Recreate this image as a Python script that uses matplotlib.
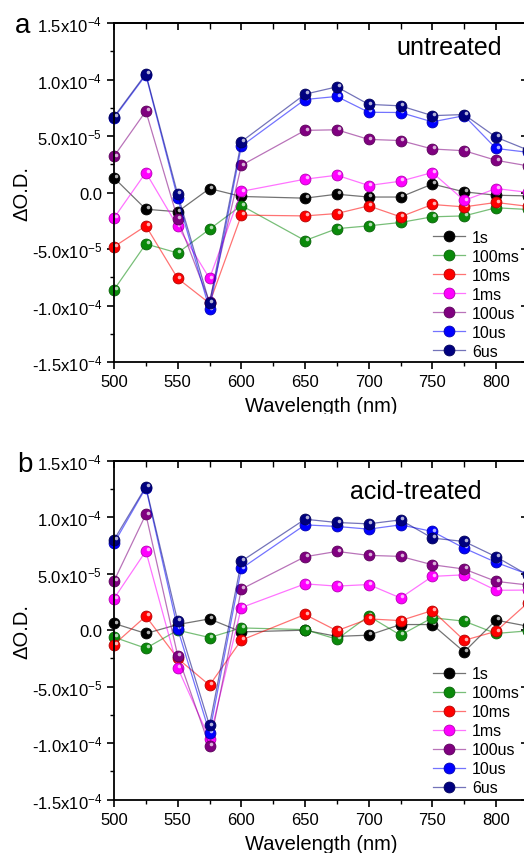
import numpy as np
import matplotlib
matplotlib.use('Agg')
import matplotlib.pyplot as plt
import matplotlib.colors as mcolors
from matplotlib.transforms import ScaledTranslation
from matplotlib.ticker import MultipleLocator, FixedLocator
from matplotlib.patches import Rectangle

plt.rcParams['font.family'] = ['Liberation Sans', 'DejaVu Sans']
plt.rcParams['mathtext.default'] = 'regular'

# probe wavelengths (nm) and delay times
wavelength = [500, 525, 550, 575, 600, 650, 675, 700, 725, 750, 775, 800, 825]
delays = ['1s', '100ms', '10ms', '1ms', '100us', '10us', '6us']
colors = ['#000000', '#0a8a0a', '#ff0000', '#ff00ff', '#800080', '#0000ff', '#000080']

# dO.D. in units of 1e-5, untreated film
untreated_1s    = [1.3, -1.48, -1.7, 0.35, -0.35, -0.5, -0.15, -0.4, -0.4, 0.75, 0.06, -0.24, -0.3]
untreated_100ms = [-8.6, -4.55, -5.35, -3.25, -1.15, -4.25, -3.2, -2.95, -2.65, -2.15, -2.07, -1.35, -1.5]
untreated_10ms  = [-4.8, -2.95, -7.6, -9.8, -2.0, -2.07, -1.86, -1.18, -2.15, -1.06, -1.27, -0.88, -1.22]
untreated_1ms   = [-2.25, 1.77, -3.0, -7.6, 0.1, 1.18, 1.53, 0.62, 1.0, 1.77, -0.7, 0.35, 0.02]
untreated_100us = [3.2, 7.2, -2.35, -9.7, 2.4, 5.5, 5.55, 4.7, 4.6, 3.85, 3.7, 2.85, 2.36]
untreated_10us  = [6.6, 10.4, -0.5, -10.35, 4.1, 8.23, 8.5, 7.1, 7.08, 6.25, 6.8, 3.9, 3.56]
untreated_6us   = [6.7, 10.5, -0.15, -9.8, 4.5, 8.7, 9.35, 7.8, 7.67, 6.8, 6.9, 4.9, 3.76]

# dO.D. in units of 1e-5, acid-treated film
acid_1s    = [0.6, -0.29, 0.5, 1.0, -0.15, 0.0, -0.55, -0.44, 0.5, 0.5, -1.92, 0.89, 0.35]
acid_100ms = [-0.62, -1.6, 0.0, -0.65, 0.2, 0.05, -0.8, 1.25, -0.44, 1.1, 0.8, -0.29, -0.06]
acid_10ms  = [-1.27, 1.24, -2.5, -4.87, -0.88, 1.39, -0.05, 1.0, 0.85, 1.74, -0.9, -0.1, 2.43]
acid_1ms   = [2.8, 7.0, -3.33, -9.6, 2.0, 4.1, 3.9, 4.04, 2.85, 4.76, 4.9, 3.53, 3.55]
acid_100us = [4.35, 10.25, -2.24, -10.26, 3.63, 6.5, 6.97, 6.62, 6.53, 5.79, 5.41, 4.32, 4.0]
acid_10us  = [7.7, 12.6, 0.12, -9.08, 5.46, 9.32, 9.18, 8.94, 9.32, 8.74, 7.26, 6.0, 4.95]
acid_6us   = [8.0, 12.7, 0.8, -8.43, 6.1, 9.82, 9.53, 9.41, 9.76, 8.15, 7.85, 6.5, 4.88]

untreated = [untreated_1s, untreated_100ms, untreated_10ms, untreated_1ms,
             untreated_100us, untreated_10us, untreated_6us]
acid = [acid_1s, acid_100ms, acid_10ms, acid_1ms, acid_100us, acid_10us, acid_6us]

yticks = [-1.5e-4, -1.0e-4, -5e-5, 0, 5e-5, 1e-4, 1.5e-4]
yticklabels = ['-1.5x$10^{-4}$', '-1.0x$10^{-4}$', '-5.0x$10^{-5}$', '0.0',
               '5.0x$10^{-5}$', '1.0x$10^{-4}$', '1.5x$10^{-4}$']

fig = plt.figure(figsize=(5.24, 8.54), dpi=100)
# axes run past the right edge of the figure, so the 825 nm end is cut off
ax_a = fig.add_axes([0.2176, 0.5749, 0.7897, 0.397])
ax_b = fig.add_axes([0.2176, 0.0624, 0.7897, 0.397])


def shade(c, amount):
    rgb = np.array(mcolors.to_rgb(c))
    return tuple(rgb + (1 - rgb) * amount)


def darker(c, amount):
    rgb = np.array(mcolors.to_rgb(c))
    return tuple(rgb * (1 - amount))


def draw_panel(ax, series, title, title_xy, leg_xy):
    hl = ax.transData + ScaledTranslation(1.3 / 72, 1.3 / 72, fig.dpi_scale_trans)
    x = np.array(wavelength)
    for vals, name, c in zip(series, delays, colors):
        y = np.array(vals) * 1e-5
        line_c = mcolors.to_rgba(c, 0.55)
        ax.plot(x, y, '-o', color=line_c, lw=0.9, ms=7.8, mfc=c,
                mec=darker(c, 0.3), mew=0.6, label=name, clip_on=False)
        # specular spot on each ball marker
        ax.plot(x, y, 'o', ms=2.6, mfc=shade(c, 0.7), mec='none',
                transform=hl, clip_on=False, label='_nolegend_')

    ax.set_xlim(500, 825)
    ax.set_ylim(-1.5e-4, 1.5e-4)
    ax.xaxis.set_major_locator(MultipleLocator(50))
    ax.xaxis.set_minor_locator(MultipleLocator(25))
    ax.yaxis.set_major_locator(FixedLocator(yticks))
    ax.yaxis.set_minor_locator(MultipleLocator(2.5e-5))
    ax.set_yticklabels(yticklabels)
    ax.tick_params(which='major', direction='out', length=5, width=1.2,
                   labelsize=12, pad=3.5)
    ax.tick_params(which='minor', direction='out', length=3, width=1.0)
    for s in ax.spines.values():
        s.set_linewidth(1.3)

    top = ax.secondary_xaxis('top')
    top.xaxis.set_major_locator(MultipleLocator(50))
    top.xaxis.set_minor_locator(MultipleLocator(25))
    top.tick_params(which='major', direction='in', length=5, width=1.2, labeltop=False)
    top.tick_params(which='minor', direction='in', length=4, width=1.0)
    top.spines['top'].set_linewidth(1.3)

    right = ax.secondary_yaxis('right')
    right.yaxis.set_major_locator(FixedLocator(yticks))
    right.yaxis.set_minor_locator(MultipleLocator(2.5e-5))
    right.tick_params(which='major', direction='in', length=5, width=1.2, labelright=False)
    right.tick_params(which='minor', direction='in', length=3, width=1.0)

    ax.set_xlabel('Wavelength (nm)', fontsize=14.5, labelpad=5.5)
    ax.set_ylabel('\u0394O.D.', fontsize=14.5)
    ax.yaxis.set_label_coords(-0.2, 0.5)

    ax.text(title_xy[0], title_xy[1], title, transform=ax.transAxes,
            fontsize=18, ha='right', va='baseline')

    ax.legend(loc='upper left', bbox_to_anchor=leg_xy, frameon=False,
              fontsize=11.5, handlelength=2.0, handletextpad=0.45,
              labelspacing=0.25, borderpad=0, borderaxespad=0, numpoints=1)


draw_panel(ax_a, untreated, 'untreated', (0.938, 0.909), (0.771, 0.39))
draw_panel(ax_b, acid, 'acid-treated', (0.889, 0.889), (0.771, 0.393))

fig.text(15 / 524, 1 - 33 / 854, 'a', fontsize=20, va='baseline')
fig.text(17 / 524, 1 - 472 / 854, 'b', fontsize=20, va='baseline')

# the upper panel is trimmed just below its axis title
fig.add_artist(Rectangle((0, 1 - 432 / 854), 1, 17 / 854,
                         transform=fig.transFigure, color='white', zorder=20))

fig.savefig('out.png', dpi=100)
